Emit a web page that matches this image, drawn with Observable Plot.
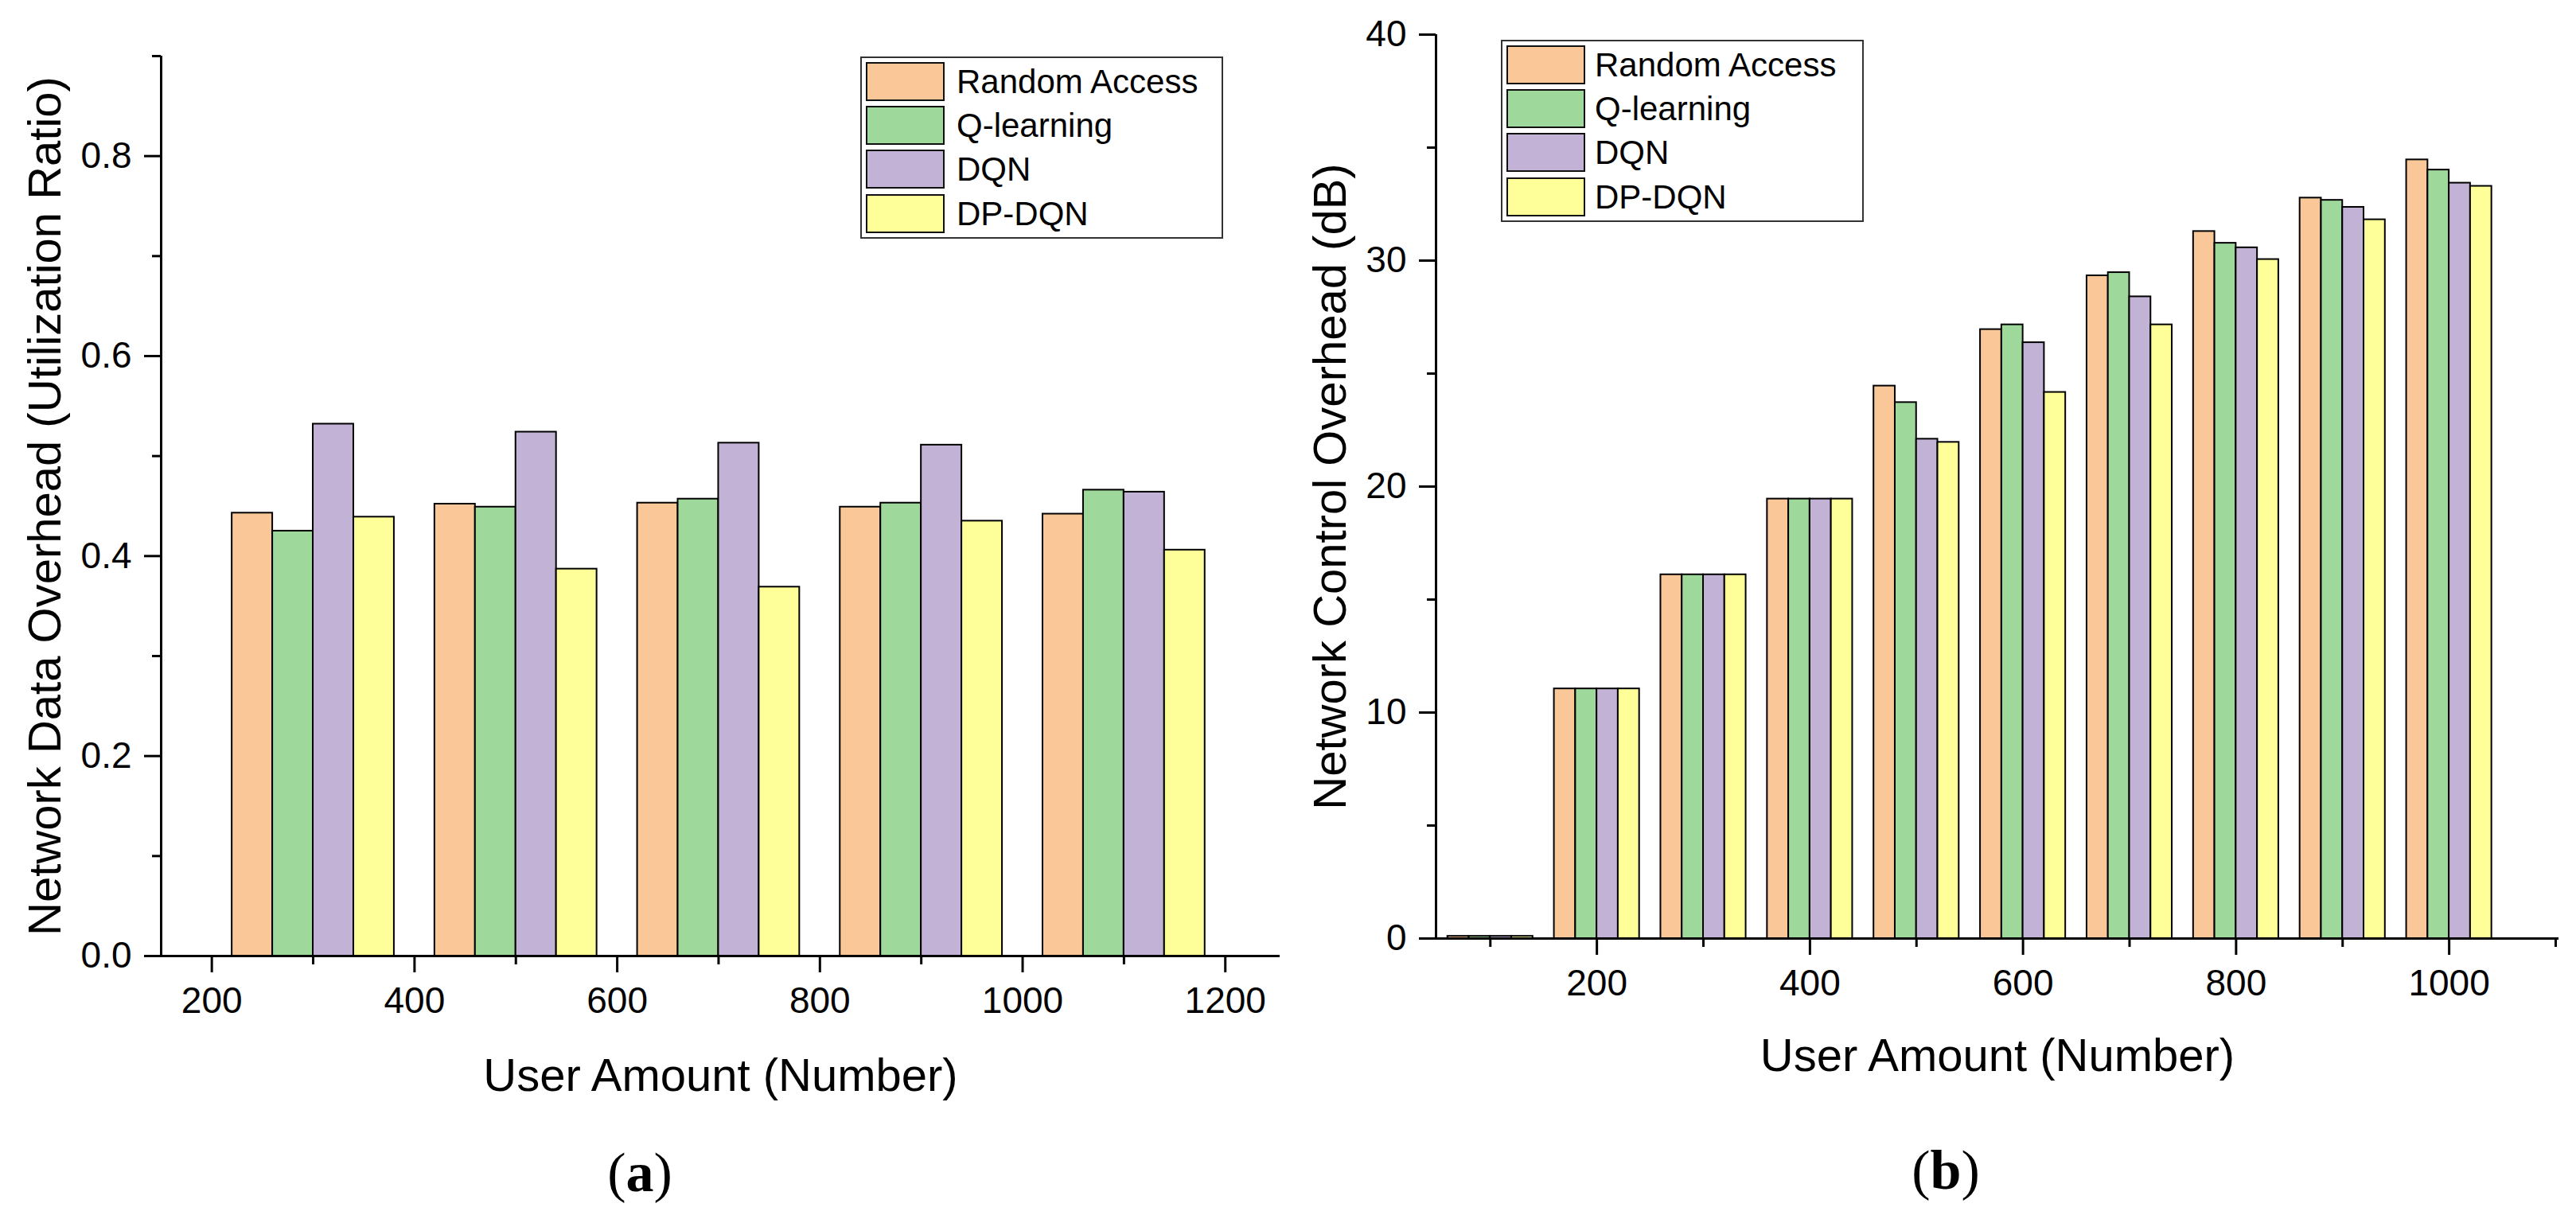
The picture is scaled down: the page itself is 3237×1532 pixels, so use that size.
<!DOCTYPE html>
<html>
<head>
<meta charset="utf-8">
<script src="https://cdn.jsdelivr.net/npm/d3@7"></script>
<script src="https://cdn.jsdelivr.net/npm/@observablehq/plot@0.6"></script>
<style>
  html, body { margin: 0; padding: 0; background: #fff; }
  #wrap { position: relative; width: 3237px; height: 1532px; overflow: hidden; background: #fff;
          font-family: "Liberation Sans", Arial, sans-serif; color: #000; }
  .panel { position: absolute; top: 0; }
  .legend { position: absolute; box-sizing: border-box; border: 2px solid #333; background: #fff; }
  .sw { position: absolute; box-sizing: border-box; border: 2px solid #111; width: 99px; height: 49px; }
  .lt { position: absolute; height: 49px; line-height: 49px; font-size: 42px; white-space: nowrap; }
  .cap { position: absolute; font-family: "Liberation Serif", "Times New Roman", serif; font-size: 70px;
         line-height: 70px; transform: translateX(-50%); white-space: nowrap; }
</style>
</head>
<body>
<div id="wrap"></div>
<script>
// ---------- data ----------
const series = ["Random Access", "Q-learning", "DQN", "DP-DQN"];
const colors = ["#FAC898", "#9ED89B", "#C2B3D6", "#FFFF99"];

// panel (a)
const usersA = [300, 500, 700, 900, 1100];
const raA  = [0.443, 0.452, 0.453, 0.449, 0.442];
const qA   = [0.425, 0.449, 0.457, 0.453, 0.466];
const dqnA = [0.532, 0.524, 0.513, 0.511, 0.464];
const dpA  = [0.439, 0.387, 0.369, 0.435, 0.406];
const xTicksA = [200, 400, 600, 800, 1000, 1200];
const xMinorA = [300, 500, 700, 900, 1100];
const yTicksA = [0, 0.2, 0.4, 0.6, 0.8];
const yMinorA = [0.1, 0.3, 0.5, 0.7, 0.9];

// panel (b)
const usersB = [100, 200, 300, 400, 500, 600, 700, 800, 900, 1000];
const raB  = [0.1, 11.05, 16.1, 19.45, 24.45, 26.95, 29.33, 31.29, 32.77, 34.46];
const qB   = [0.1, 11.05, 16.1, 19.45, 23.72, 27.16, 29.47, 30.77, 32.67, 34.01];
const dqnB = [0.1, 11.05, 16.1, 19.45, 22.10, 26.37, 28.40, 30.57, 32.36, 33.43];
const dpB  = [0.1, 11.05, 16.1, 19.45, 21.96, 24.17, 27.16, 30.05, 31.81, 33.29];
const xTicksB = [200, 400, 600, 800, 1000];
const xMinorB = [100, 300, 500, 700, 900, 1100];
const yTicksB = [0, 10, 20, 30, 40];
const yMinorB = [5, 15, 25, 35];

const xLabel = "User Amount (Number)";
const yLabelA = "Network Data Overhead (Utilization Ratio)";
const yLabelB = "Network Control Overhead (dB)";

// ---------- drawing ----------
function makeRows(users, valueLists, barW) {
  const rows = [];
  valueLists.forEach((vals, k) => {
    users.forEach((u, i) => {
      const x1 = u + (k - 2) * barW;
      rows.push({series: series[k], x1, x2: x1 + barW, y: vals[i]});
    });
  });
  return rows;
}

function panel(o) {
  const rows = makeRows(o.users, o.values, o.barW);
  return Plot.plot({
    width: o.width,
    height: 1532,
    marginLeft: o.ml, marginRight: o.mr, marginTop: o.mt, marginBottom: o.mb,
    style: {fontFamily: "'Liberation Sans', Arial, sans-serif", color: "#000", background: "transparent", overflow: "visible"},
    x: {domain: o.xDomain, axis: null},
    y: {domain: o.yDomain, axis: null},
    color: {domain: series, range: colors},
    marks: [
      Plot.rect(rows, {x1: "x1", x2: "x2", y1: 0, y2: "y", fill: "series", stroke: "#000", strokeWidth: 2}),
      Plot.axisX(o.xTicks, {tickSize: 21, tickPadding: 18, fontSize: 46, strokeWidth: 3, tickFormat: d3.format("d"), label: null}),
      Plot.axisX(o.xMinor, {tickSize: 11, strokeWidth: 3, tickFormat: () => "", label: null}),
      Plot.axisY(o.yTicks, {tickSize: 21, tickPadding: 16, fontSize: 46, strokeWidth: 3, tickFormat: o.yFmt, label: null}),
      Plot.axisY(o.yMinor, {tickSize: 11, strokeWidth: 3, tickFormat: () => "", label: null}),
      Plot.ruleY([0], {stroke: "#000", strokeWidth: 3}),
      Plot.ruleX([o.xDomain[0]], {stroke: "#000", strokeWidth: 3}),
      Plot.text([xLabel], {text: d => d, frameAnchor: "bottom", textAnchor: "middle", lineAnchor: "middle", dy: o.xlDy, fontSize: 58}),
      Plot.text([o.yLabel], {text: d => d, frameAnchor: "left", textAnchor: "middle", lineAnchor: "middle", dx: o.ylDx, rotate: -90, fontSize: 58})
    ]
  });
}

function legend(left, top, textOff) {
  const box = document.createElement("div");
  box.className = "legend";
  Object.assign(box.style, {left: left + "px", top: top + "px", width: "456px", height: "229px"});
  const rowTops = [5, 60, 115, 171];
  series.forEach((s, k) => {
    const sw = document.createElement("div");
    sw.className = "sw";
    Object.assign(sw.style, {left: "5px", top: rowTops[k] + "px", background: colors[k]});
    const t = document.createElement("div");
    t.className = "lt";
    Object.assign(t.style, {left: (textOff - 2) + "px", top: rowTops[k] + "px"});
    t.textContent = s;
    box.appendChild(sw); box.appendChild(t);
  });
  return box;
}

function caption(letter, cx, top) {
  const c = document.createElement("div");
  c.className = "cap";
  c.style.left = cx + "px";
  c.style.top = top + "px";
  c.innerHTML = "(<b>" + letter + "</b>)";
  return c;
}

const wrap = document.getElementById("wrap");

const pa = panel({
  width: 1620, ml: 202, mr: 12, mt: 70, mb: 331,
  xDomain: [150, 1254], yDomain: [0, 0.9],
  users: usersA, values: [raA, qA, dqnA, dpA], barW: 40,
  xTicks: xTicksA, xMinor: xMinorA, yTicks: yTicksA, yMinor: yMinorA,
  yFmt: d3.format(".1f"), yLabel: yLabelA, xlDy: 151, ylDx: -145
});
const da = document.createElement("div");
da.className = "panel"; da.style.left = "0px";
da.appendChild(pa);
wrap.appendChild(da);

const pb = panel({
  width: 1617, ml: 184, mr: 22, mt: 43, mb: 353,
  xDomain: [49, 1103], yDomain: [0, 40],
  users: usersB, values: [raB, qB, dqnB, dpB], barW: 20,
  xTicks: xTicksB, xMinor: xMinorB, yTicks: yTicksB, yMinor: yMinorB,
  yFmt: d3.format("d"), yLabel: yLabelB, xlDy: 148, ylDx: -132
});
const db = document.createElement("div");
db.className = "panel"; db.style.left = "1620px";
db.appendChild(pb);
wrap.appendChild(db);

wrap.appendChild(legend(1081, 71, 121));
wrap.appendChild(legend(1886, 50, 118));
wrap.appendChild(caption("a", 804, 1439));
wrap.appendChild(caption("b", 2445, 1436));
</script>
</body>
</html>
